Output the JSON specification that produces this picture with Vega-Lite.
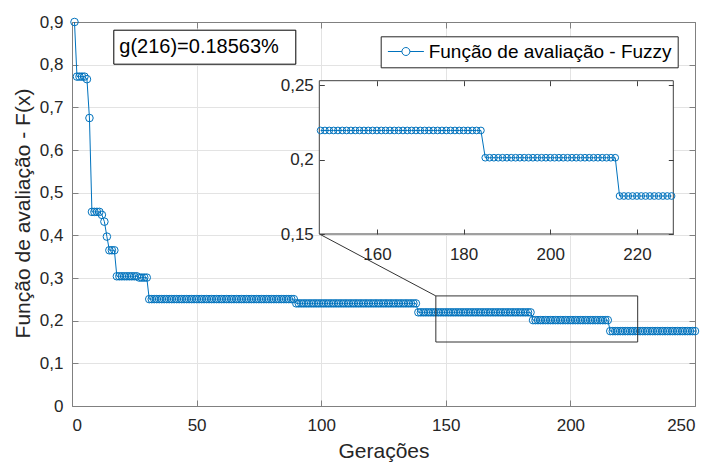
{
"$schema":"https://vega.github.io/schema/vega-lite/v6.json",
"width":623,"height":384,
"autosize":{"type":"none"},
"padding":{"left":72,"top":22,"right":12,"bottom":56},
"background":"#ffffff",
"config":{
 "view":{"stroke":null},
 "font":"Liberation Sans",
 "axis":{"labelFont":"Liberation Sans","titleFont":"Liberation Sans","labelFontSize":17,"labelColor":"#262626","titleColor":"#262626","titleFontSize":21,"titleFontWeight":"normal","domainColor":"#808080","tickColor":"#808080","domainWidth":1,"tickWidth":1,"tickSize":-6,"gridColor":"#e3e3e3","gridWidth":1},
 "legend":{"labelFont":"Liberation Sans","labelColor":"#000000","titleFont":"Liberation Sans"}
},
"data":{"values":[
{"g":1,"v":0.9},{"g":2,"v":0.772},{"g":3,"v":0.772},{"g":4,"v":0.772},{"g":5,"v":0.772},{"g":6,"v":0.766},{"g":7,"v":0.675},{"g":8,"v":0.455},{"g":9,"v":0.455},{"g":10,"v":0.455},
{"g":11,"v":0.455},{"g":12,"v":0.448},{"g":13,"v":0.432},{"g":14,"v":0.397},{"g":15,"v":0.365},{"g":16,"v":0.365},{"g":17,"v":0.365},{"g":18,"v":0.304},{"g":19,"v":0.304},{"g":20,"v":0.304},
{"g":21,"v":0.304},{"g":22,"v":0.304},{"g":23,"v":0.304},{"g":24,"v":0.304},{"g":25,"v":0.304},{"g":26,"v":0.304},{"g":27,"v":0.301},{"g":28,"v":0.301},{"g":29,"v":0.301},{"g":30,"v":0.301},
{"g":31,"v":0.2505},{"g":32,"v":0.2505},{"g":33,"v":0.2505},{"g":34,"v":0.2505},{"g":35,"v":0.2505},{"g":36,"v":0.2505},{"g":37,"v":0.2505},{"g":38,"v":0.2505},{"g":39,"v":0.2505},{"g":40,"v":0.2505},
{"g":41,"v":0.2505},{"g":42,"v":0.2505},{"g":43,"v":0.2505},{"g":44,"v":0.2505},{"g":45,"v":0.2505},{"g":46,"v":0.2505},{"g":47,"v":0.2505},{"g":48,"v":0.2505},{"g":49,"v":0.2505},{"g":50,"v":0.2505},
{"g":51,"v":0.2505},{"g":52,"v":0.2505},{"g":53,"v":0.2505},{"g":54,"v":0.2505},{"g":55,"v":0.2505},{"g":56,"v":0.2505},{"g":57,"v":0.2505},{"g":58,"v":0.2505},{"g":59,"v":0.2505},{"g":60,"v":0.2505},
{"g":61,"v":0.2505},{"g":62,"v":0.2505},{"g":63,"v":0.2505},{"g":64,"v":0.2505},{"g":65,"v":0.2505},{"g":66,"v":0.2505},{"g":67,"v":0.2505},{"g":68,"v":0.2505},{"g":69,"v":0.2505},{"g":70,"v":0.2505},
{"g":71,"v":0.2505},{"g":72,"v":0.2505},{"g":73,"v":0.2505},{"g":74,"v":0.2505},{"g":75,"v":0.2505},{"g":76,"v":0.2505},{"g":77,"v":0.2505},{"g":78,"v":0.2505},{"g":79,"v":0.2505},{"g":80,"v":0.2505},
{"g":81,"v":0.2505},{"g":82,"v":0.2505},{"g":83,"v":0.2505},{"g":84,"v":0.2505},{"g":85,"v":0.2505},{"g":86,"v":0.2505},{"g":87,"v":0.2505},{"g":88,"v":0.2505},{"g":89,"v":0.2505},{"g":90,"v":0.2405},
{"g":91,"v":0.2405},{"g":92,"v":0.2405},{"g":93,"v":0.2405},{"g":94,"v":0.2405},{"g":95,"v":0.2405},{"g":96,"v":0.2405},{"g":97,"v":0.2405},{"g":98,"v":0.2405},{"g":99,"v":0.2405},{"g":100,"v":0.2405},
{"g":101,"v":0.2405},{"g":102,"v":0.2405},{"g":103,"v":0.2405},{"g":104,"v":0.2405},{"g":105,"v":0.2405},{"g":106,"v":0.2405},{"g":107,"v":0.2405},{"g":108,"v":0.2405},{"g":109,"v":0.2405},{"g":110,"v":0.2405},
{"g":111,"v":0.2405},{"g":112,"v":0.2405},{"g":113,"v":0.2405},{"g":114,"v":0.2405},{"g":115,"v":0.2405},{"g":116,"v":0.2405},{"g":117,"v":0.2405},{"g":118,"v":0.2405},{"g":119,"v":0.2405},{"g":120,"v":0.2405},
{"g":121,"v":0.2405},{"g":122,"v":0.2405},{"g":123,"v":0.2405},{"g":124,"v":0.2405},{"g":125,"v":0.2405},{"g":126,"v":0.2405},{"g":127,"v":0.2405},{"g":128,"v":0.2405},{"g":129,"v":0.2405},{"g":130,"v":0.2405},
{"g":131,"v":0.2405},{"g":132,"v":0.2405},{"g":133,"v":0.2405},{"g":134,"v":0.2405},{"g":135,"v":0.2405},{"g":136,"v":0.2405},{"g":137,"v":0.2405},{"g":138,"v":0.2405},{"g":139,"v":0.2195},{"g":140,"v":0.2195},
{"g":141,"v":0.2195},{"g":142,"v":0.2195},{"g":143,"v":0.2195},{"g":144,"v":0.2195},{"g":145,"v":0.2195},{"g":146,"v":0.2195},{"g":147,"v":0.2195},{"g":148,"v":0.2195},{"g":149,"v":0.2195},{"g":150,"v":0.2195},
{"g":151,"v":0.2195},{"g":152,"v":0.2195},{"g":153,"v":0.2195},{"g":154,"v":0.2195},{"g":155,"v":0.2195},{"g":156,"v":0.2195},{"g":157,"v":0.2195},{"g":158,"v":0.2195},{"g":159,"v":0.2195},{"g":160,"v":0.2195},
{"g":161,"v":0.2195},{"g":162,"v":0.2195},{"g":163,"v":0.2195},{"g":164,"v":0.2195},{"g":165,"v":0.2195},{"g":166,"v":0.2195},{"g":167,"v":0.2195},{"g":168,"v":0.2195},{"g":169,"v":0.2195},{"g":170,"v":0.2195},
{"g":171,"v":0.2195},{"g":172,"v":0.2195},{"g":173,"v":0.2195},{"g":174,"v":0.2195},{"g":175,"v":0.2195},{"g":176,"v":0.2195},{"g":177,"v":0.2195},{"g":178,"v":0.2195},{"g":179,"v":0.2195},{"g":180,"v":0.2195},
{"g":181,"v":0.2195},{"g":182,"v":0.2195},{"g":183,"v":0.2195},{"g":184,"v":0.2195},{"g":185,"v":0.2012},{"g":186,"v":0.2012},{"g":187,"v":0.2012},{"g":188,"v":0.2012},{"g":189,"v":0.2012},{"g":190,"v":0.2012},
{"g":191,"v":0.2012},{"g":192,"v":0.2012},{"g":193,"v":0.2012},{"g":194,"v":0.2012},{"g":195,"v":0.2012},{"g":196,"v":0.2012},{"g":197,"v":0.2012},{"g":198,"v":0.2012},{"g":199,"v":0.2012},{"g":200,"v":0.2012},
{"g":201,"v":0.2012},{"g":202,"v":0.2012},{"g":203,"v":0.2012},{"g":204,"v":0.2012},{"g":205,"v":0.2012},{"g":206,"v":0.2012},{"g":207,"v":0.2012},{"g":208,"v":0.2012},{"g":209,"v":0.2012},{"g":210,"v":0.2012},
{"g":211,"v":0.2012},{"g":212,"v":0.2012},{"g":213,"v":0.2012},{"g":214,"v":0.2012},{"g":215,"v":0.2012},{"g":216,"v":0.1755},{"g":217,"v":0.1755},{"g":218,"v":0.1755},{"g":219,"v":0.1755},{"g":220,"v":0.1755},
{"g":221,"v":0.1755},{"g":222,"v":0.1755},{"g":223,"v":0.1755},{"g":224,"v":0.1755},{"g":225,"v":0.1755},{"g":226,"v":0.1755},{"g":227,"v":0.1755},{"g":228,"v":0.1755},{"g":229,"v":0.1755},{"g":230,"v":0.1755},
{"g":231,"v":0.1755},{"g":232,"v":0.1755},{"g":233,"v":0.1755},{"g":234,"v":0.1755},{"g":235,"v":0.1755},{"g":236,"v":0.1755},{"g":237,"v":0.1755},{"g":238,"v":0.1755},{"g":239,"v":0.1755},{"g":240,"v":0.1755},
{"g":241,"v":0.1755},{"g":242,"v":0.1755},{"g":243,"v":0.1755},{"g":244,"v":0.1755},{"g":245,"v":0.1755},{"g":246,"v":0.1755},{"g":247,"v":0.1755},{"g":248,"v":0.1755},{"g":249,"v":0.1755},{"g":250,"v":0.1755}
]},
"layer":[
 {"layer":[
   {"mark":{"type":"line","strokeWidth":1,"point":{"filled":false,"size":57,"strokeWidth":1}},
    "encoding":{
      "x":{"field":"g","type":"quantitative","scale":{"domain":[0,250],"nice":false,"zero":false},"axis":{"orient":"bottom","values":[0,50,100,150,200,250],"grid":true,"labelPadding":17,"title":"Gerações","titleY":51,"titleBaseline":"alphabetic"}},
      "y":{"field":"v","type":"quantitative","scale":{"domain":[0,0.9],"nice":false,"zero":false},"axis":{"orient":"left","values":[0,0.1,0.2,0.3,0.4,0.5,0.6,0.7,0.8,0.9],"grid":true,"labelPadding":15,"labelExpr":"replace(format(datum.value,'~g'),'.',',')","title":"Função de avaliação - F(x)","titleX":-43,"titleY":191,"titleAngle":-90,"titleAlign":"center","titleBaseline":"alphabetic"}},
      "color":{"datum":"Função de avaliação - Fuzzy","scale":{"range":["#0072BD"]},"legend":{"orient":"none","legendX":308.7,"legendY":14.3,"title":null,"strokeColor":"#262626","fillColor":"#ffffff","padding":5.7,"labelFontSize":19,"labelLimit":0,"labelOffset":23.3,"symbolType":"M-1,0H0.75M1.75,0H3.5M1.75,0A0.5,0.5,0,1,1,0.75,0A0.5,0.5,0,1,1,1.75,0","symbolSize":256,"symbolStrokeWidth":1,"symbolStrokeColor":"#0072BD","symbolFillColor":"transparent"}}
    }},
   {"data":{"values":[{}]},
    "mark":{"type":"rect","fill":"transparent","stroke":"#333333","strokeWidth":1},
    "encoding":{
      "x":{"datum":146,"type":"quantitative","scale":{"domain":[0,250],"nice":false,"zero":false},"axis":{"orient":"top","values":[0,50,100,150,200,250],"labels":false,"grid":false,"title":null}},
      "x2":{"datum":227},
      "y":{"datum":0.15,"type":"quantitative","scale":{"domain":[0,0.9],"nice":false,"zero":false},"axis":{"orient":"right","values":[0,0.1,0.2,0.3,0.4,0.5,0.6,0.7,0.8,0.9],"labels":false,"grid":false,"title":null}},
      "y2":{"datum":0.258}
    }},
   {"data":{"values":[{}]},
    "mark":{"type":"rule","color":"#333333","strokeWidth":1},
    "encoding":{
      "x":{"datum":99.3,"type":"quantitative","scale":{"domain":[0,250],"nice":false,"zero":false},"axis":null},
      "x2":{"datum":146},
      "y":{"datum":0.403,"type":"quantitative","scale":{"domain":[0,0.9],"nice":false,"zero":false},"axis":null},
      "y2":{"datum":0.258}
    }},
   {"data":{"values":[{}]},
    "mark":{"type":"point","opacity":0},
    "encoding":{
      "shape":{"datum":"g(216)=0.18563%","legend":{"orient":"none","legendX":41.3,"legendY":7.7,"title":" ","titleOrient":"right","titlePadding":9,"titleFontSize":20,"strokeColor":"#000000","fillColor":"#ffffff","padding":7,"labelFontSize":20,"labelLimit":0,"labelOffset":-21,"symbolSize":0,"symbolOpacity":0}}
    }}
  ],
  "resolve":{"axis":{"x":"independent","y":"independent"}}
 },
 {"layer":[
   {"data":{"values":[{}]},
    "mark":{"type":"rect","fill":"#ffffff","stroke":"#404040","strokeWidth":1},
    "encoding":{
      "x":{"datum":146.7,"type":"quantitative","scale":{"domain":[146.7,228.4],"range":[247.3,601.3],"nice":false,"zero":false},"axis":{"orient":"bottom","offset":-172,"values":[160,180,200,220],"grid":false,"domain":false,"title":null,"labelPadding":17,"tickSize":-5,"tickColor":"#404040","zindex":1}},
      "x2":{"datum":228.4},
      "y":{"datum":0.15,"type":"quantitative","scale":{"domain":[0.15,0.2529],"range":[212,58.7],"nice":false,"zero":false},"axis":{"orient":"left","offset":-247.3,"values":[0.15,0.2,0.25],"labelExpr":"replace(format(datum.value,'~g'),'.',',')","grid":false,"domain":false,"title":null,"labelPadding":11,"tickSize":-5,"tickColor":"#404040","zindex":1}},
      "y2":{"datum":0.2529}
    }},
   {"transform":[{"filter":"datum.g >= 147 && datum.g <= 228"}],
    "mark":{"type":"line","strokeWidth":1,"point":{"filled":false,"size":45,"strokeWidth":1}},
    "encoding":{
      "x":{"field":"g","type":"quantitative","scale":{"domain":[146.7,228.4],"range":[247.3,601.3],"nice":false,"zero":false},"axis":{"orient":"top","offset":-58.7,"values":[160,180,200,220],"labels":false,"grid":false,"domain":false,"title":null,"tickSize":-5,"tickColor":"#404040","zindex":1}},
      "y":{"field":"v","type":"quantitative","scale":{"domain":[0.15,0.2529],"range":[212,58.7],"nice":false,"zero":false},"axis":{"orient":"right","offset":-21.7,"values":[0.15,0.2,0.25],"labels":false,"grid":false,"domain":false,"title":null,"tickSize":-5,"tickColor":"#404040","zindex":1}},
      "color":{"datum":"Função de avaliação - Fuzzy"}
    }}
  ],
  "resolve":{"axis":{"x":"independent","y":"independent"}}
 }
],
"resolve":{"scale":{"x":"independent","y":"independent"},"axis":{"x":"independent","y":"independent"}}
}
